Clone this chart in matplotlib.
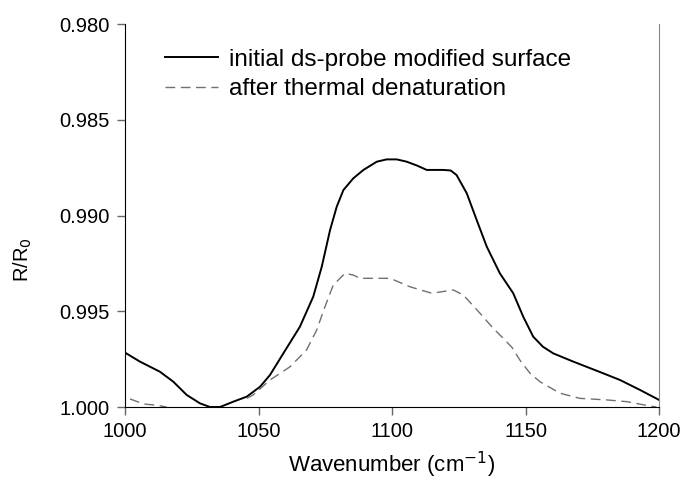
import numpy as np
import matplotlib
matplotlib.use("Agg")
import matplotlib.pyplot as plt
from matplotlib.ticker import FormatStrFormatter

plt.rcParams['font.family'] = ['Liberation Sans', 'DejaVu Sans']

# initial ds-probe modified surface
x_init = [1000.0, 1005.6, 1013.1, 1018.1, 1023.1, 1028.1, 1031.8, 1035.6, 1040.6, 1045.6,
          1050.6, 1054.3, 1059.3, 1065.5, 1070.5, 1073.7, 1076.8, 1079.3, 1081.8, 1085.5,
          1089.3, 1094.3, 1098.0, 1101.8, 1105.5, 1109.5, 1113.0, 1119.2, 1122.0, 1124.2,
          1128.0, 1131.7, 1135.5, 1140.4, 1145.4, 1149.2, 1152.9, 1156.5, 1160.4, 1167.9,
          1179.1, 1185.4, 1192.9, 1200.0]
y_init = [0.99716, 0.99763, 0.99816, 0.99868, 0.99937, 0.99981, 1.00000, 1.00000, 0.99972,
          0.99946, 0.99894, 0.99833, 0.99720, 0.99581, 0.99424, 0.99267, 0.99076, 0.98954,
          0.98867, 0.98806, 0.98762, 0.98719, 0.98707, 0.98707, 0.98719, 0.98740, 0.98762,
          0.98762, 0.98765, 0.98789, 0.98884, 0.99023, 0.99163, 0.99302, 0.99406, 0.99530,
          0.99633, 0.99685, 0.99720, 0.99763, 0.99824, 0.99859, 0.99911, 0.99963]

# after thermal denaturation (NaN where the curve runs below the axis range)
x_den = [1001.9, 1006.9, 1011.9, 1015.6, 1030.0, 1045.6, 1048.0, 1054.3, 1061.8, 1068.0,
         1071.8, 1074.9, 1078.0, 1082.4, 1085.5, 1088.0, 1094.3, 1099.3, 1106.7, 1114.9,
         1123.0, 1126.7, 1133.0, 1137.9, 1142.3, 1145.0, 1147.9, 1151.7, 1155.4, 1162.9,
         1170.4, 1180.4, 1187.9, 1196.6, 1199.0]
y_den = [0.99958, 0.99984, 0.99991, 1.00000, np.nan, 0.99955, 0.99937, 0.99859, 0.99790,
         0.99702, 0.99598, 0.99476, 0.99363, 0.99302, 0.99311, 0.99328, 0.99328, 0.99328,
         0.99372, 0.99406, 0.99389, 0.99415, 0.99511, 0.99589, 0.99650, 0.99690, 0.99755,
         0.99824, 0.99868, 0.99928, 0.99955, 0.99963, 0.99972, 0.99995, 1.00000]

x_ticks = [1000, 1050, 1100, 1150, 1200]
y_ticks = [0.980, 0.985, 0.990, 0.995, 1.000]

fig = plt.figure(figsize=(6.86, 4.90), dpi=100)
ax = fig.add_axes([125 / 686, 1 - 407 / 490, 534 / 686, 383 / 490])

ax.plot(x_init, y_init, color='black', lw=1.4, label='initial ds-probe modified surface')
ax.plot(x_den, y_den, color='#707070', lw=1.0, dashes=(7, 4), label='after thermal denaturation')

ax.set_xlim(1000, 1200)
ax.set_ylim(1.000, 0.980)
ax.set_xticks(x_ticks)
ax.set_yticks(y_ticks)
ax.yaxis.set_major_formatter(FormatStrFormatter('%.3f'))
ax.tick_params(direction='out', length=6, width=1, labelsize=14.5, colors='#666666',
               labelcolor='black', pad=5)

ax.spines['top'].set_visible(False)
ax.spines['right'].set_color('#888888')
ax.spines['left'].set_color('black')
ax.spines['bottom'].set_color('black')

ax.set_xlabel('Wavenumber (cm$^{-1}$)', fontsize=16, labelpad=6)
ax.set_ylabel('R/R$_0$', fontsize=14.5)
ax.yaxis.set_label_coords(-0.17, 0.385)

leg = ax.legend(loc='upper left', bbox_to_anchor=(0.075, 0.935), frameon=False,
                borderpad=0, borderaxespad=0,
                fontsize=17.5, handlelength=2.18, handletextpad=0.45, labelspacing=0.3)

fig.savefig('out.png', dpi=100)
